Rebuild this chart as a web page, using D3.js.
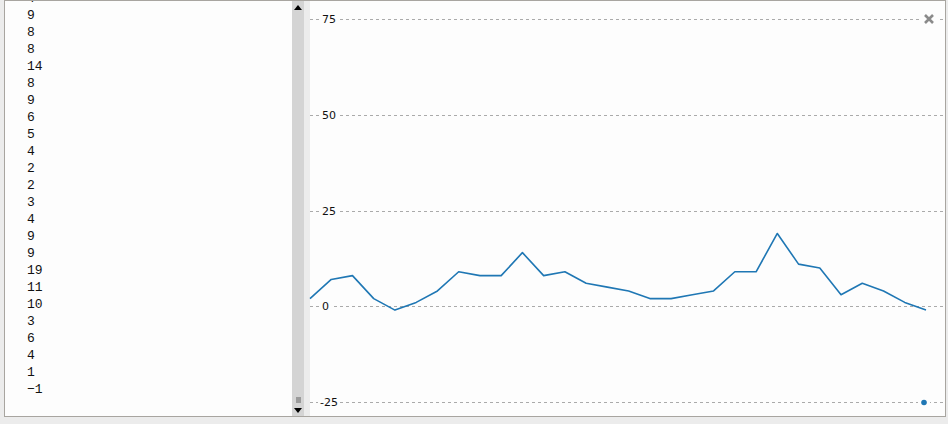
<!DOCTYPE html>
<html>
<head>
<meta charset="utf-8">
<script src="https://cdn.jsdelivr.net/npm/d3@7"></script>
<style>
  body { margin: 0; background: #ececec; }
  svg { display: block; }
</style>
</head>
<body>
<div id="VizBox"></div>
<script>
// values of the series (also listed in the left text box)
var values = [2, 7, 8, 2, -1, 1, 4, 9, 8, 8, 14, 8, 9, 6, 5, 4, 2, 2, 3, 4, 9, 9, 19, 11, 10, 3, 6, 4, 1, -1];
var yTicks = [-25, 0, 25, 50, 75];
// the text box is scrolled down: first row in view
var firstRow = 6;

var W = 948, H = 424;
var svg = d3.select("#VizBox")
  .append("svg")
    .attr("width", W)
    .attr("height", H);

// window background + frame
svg.append("rect")
  .attr("x", 0).attr("y", 0).attr("width", W).attr("height", H)
  .attr("fill", "#ececec");
svg.append("rect")
  .attr("x", 4.5).attr("y", 0.5).attr("width", 941).attr("height", 416)
  .attr("fill", "#fdfdfd")
  .attr("stroke", "#a8a5a0");

// ---- left text list ----
svg.append("clipPath").attr("id", "listClip")
  .append("rect").attr("x", 5).attr("y", 1).attr("width", 287).attr("height", 415);

var rows = values.map(function(d, i) { return {v: d, i: i}; }).slice(firstRow);

var list = svg.append("g").attr("clip-path", "url(#listClip)");
list.selectAll("text")
  .data(rows)
  .enter()
  .append("text")
    .attr("x", 27)
    .attr("y", function(d) { return 19 + (d.i - 7) * 17; })
    .attr("font-family", "Liberation Mono, monospace")
    .attr("font-size", "13px")
    .attr("fill", "#111")
    .text(function(d) { return d.v < 0 ? "\u2212" + Math.abs(d.v) : d.v; });

// scrollbar
svg.append("rect")
  .attr("x", 292).attr("y", 1).attr("width", 12).attr("height", 415)
  .attr("fill", "#d4d4d4");
svg.append("rect")
  .attr("x", 304).attr("y", 1).attr("width", 6).attr("height", 415)
  .attr("fill", "#ececec");
svg.append("path")
  .attr("d", "M294,10 L302,10 L298,5 Z")
  .attr("fill", "#000");
svg.append("path")
  .attr("d", "M294,408 L302,408 L298,413 Z")
  .attr("fill", "#000");
svg.append("rect")
  .attr("x", 296).attr("y", 397).attr("width", 5).attr("height", 6)
  .attr("fill", "#9a9a9a");

// ---- line chart ----
var x = d3.scaleLinear()
  .domain([0, values.length - 1])
  .range([310, 926]);

var y = d3.scaleLinear()
  .domain([-25, 75])
  .range([402, 19]);

var grid = svg.append("g");
grid.selectAll("line")
  .data(yTicks)
  .enter()
  .append("line")
    .attr("x1", 310)
    .attr("x2", 945)
    .attr("y1", function(d) { return Math.round(y(d)) + 0.5; })
    .attr("y2", function(d) { return Math.round(y(d)) + 0.5; })
    .attr("stroke", "#aaa")
    .attr("stroke-dasharray", "3,3");

// tick labels, with white box knocking out the gridline
var labels = svg.append("g");
labels.selectAll("rect")
  .data(yTicks)
  .enter()
  .append("rect")
    .attr("x", function(d) { return d < 0 ? 318 : 320; })
    .attr("y", function(d) { return Math.round(y(d)) - 6; })
    .attr("width", function(d) { return d < 0 ? 22 : d == 0 ? 12 : 18; })
    .attr("height", 12)
    .attr("fill", "#fdfdfd");
labels.selectAll("text")
  .data(yTicks)
  .enter()
  .append("text")
    .attr("x", function(d) { return d < 0 ? 320 : 322; })
    .attr("y", function(d) { return Math.round(y(d)) + 4; })
    .attr("font-family", "DejaVu Sans, sans-serif")
    .attr("font-size", "11px")
    .attr("fill", "#111")
    .text(function(d) { return d < 0 ? "-" + Math.abs(d) : d; });

var line = d3.line()
  .x(function(d, i) { return x(i); })
  .y(function(d) { return y(d); });

svg.append("path")
  .datum(values)
  .attr("d", line)
  .attr("fill", "none")
  .attr("stroke", "#1f77b4")
  .attr("stroke-width", 1.6)
  .attr("stroke-linejoin", "round");

// close icon at the top right
svg.append("rect")
  .attr("x", 921).attr("y", 12).attr("width", 16).attr("height", 14)
  .attr("fill", "#fdfdfd");
svg.append("path")
  .attr("d", "M925,15 L933,23 M933,15 L925,23")
  .attr("stroke", "#8a8a8a")
  .attr("stroke-width", 2.6);

// small blue marker at the bottom right
svg.append("rect")
  .attr("x", 918).attr("y", Math.round(y(-25)) - 4).attr("width", 12).attr("height", 9)
  .attr("fill", "#fdfdfd");
svg.append("circle")
  .attr("cx", 924)
  .attr("cy", Math.round(y(-25)) + 0.5)
  .attr("r", 2.8)
  .attr("fill", "#1f77b4");
</script>
</body>
</html>
